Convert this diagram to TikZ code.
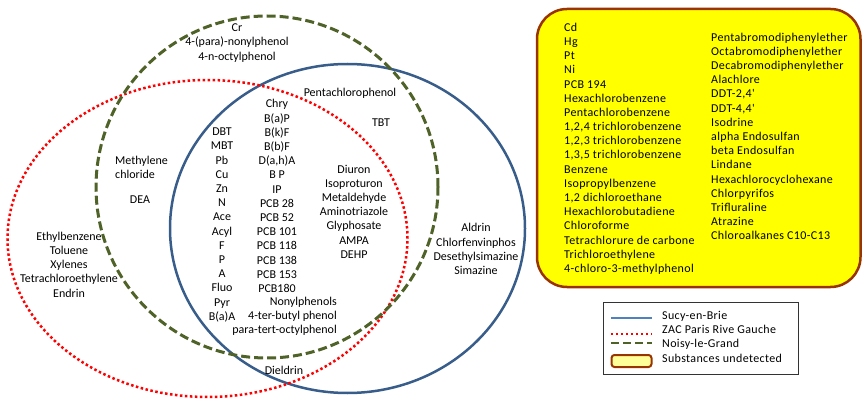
\documentclass[tikz,border=0pt]{standalone}
\usepackage{fontspec}
\setmainfont{Carlito}
\newfontfamily\boxfont{Carlito}[LetterSpace=3]
\definecolor{sucy}{HTML}{385D8A}
\definecolor{sucyleg}{HTML}{4F81BD}
\definecolor{noisy}{HTML}{4F6228}
\definecolor{boxborder}{HTML}{993300}
\definecolor{boxfill}{HTML}{FFFF00}
\definecolor{legfill}{HTML}{FFFF99}
\tikzset{
  txt/.style={inner sep=0pt, font=\fontsize{12}{14.2}\selectfont, align=center, text=black},
  txtl/.style={txt, align=left, anchor=west},
  txtb/.style={txtl, font=\boxfont\fontsize{12}{14.2}\selectfont},
  sucyline/.style={draw=sucy, line width=2.5pt},
  zacline/.style={draw=red, line width=2.5pt, dash pattern=on 2.5pt off 2.5pt},
  noisyline/.style={draw=noisy, line width=3pt, dash pattern=on 9pt off 4pt},
}
\begin{document}
\begin{tikzpicture}[x=1pt,y=-1pt]
\useasboundingbox (0,0) rectangle (863,401);
% sets
\draw[sucyline] (347.5,228.5) ellipse [x radius=177.5pt, y radius=164.5pt];
\draw[zacline] (207.5,238.5) ellipse [x radius=200pt, y radius=158.5pt];
\draw[noisyline] (267,187) circle [radius=171pt];
% Venn texts
\node[txt] (cr) at (237,43) {Cr\\4-(para)-nonylphenol\\4-n-octylphenol};
\node[txt] (pcp) at (350,93) {Pentachlorophenol};
\node[txt] (tbt) at (381,123) {TBT};
\node[txt] (hap) at (277,196) {Chry\\B(a)P\\B(k)F\\B(b)F\\D(a,h)A\\B P\\IP\\PCB 28\\PCB 52\\PCB 101\\PCB 118\\PCB 138\\PCB 153\\PCB180};
\node[txt, align=right, anchor=east] (phen) at (337,316.5) {Nonylphenols\\4-ter-butyl phenol\\para-tert-octylphenol};
\node[txt] (met) at (222,225) {DBT\\MBT\\Pb\\Cu\\Zn\\N\\Ace\\Acyl\\F\\P\\A\\Fluo\\Pyr\\B(a)A};
\node[txt] (pest) at (354,211.5) {Diuron\\Isoproturon\\Metaldehyde\\Aminotriazole\\Glyphosate\\AMPA\\DEHP};
\node[txtl] (mc) at (115,167) {Methylene\\chloride};
\node[txt] (dea) at (140,200) {DEA};
\node[txt] (eth) at (69,264.5) {Ethylbenzene\\Toluene\\Xylenes\\Tetrachloroethylene\\Endrin};
\node[txt] (ald) at (476,249) {Aldrin\\Chlorfenvinphos\\Desethylsimazine\\Simazine};
\node[txt] (die) at (284,370) {Dieldrin};
% undetected box
\draw[draw=boxborder, fill=boxfill, line width=2.5pt, rounded corners=30pt] (537,9) rectangle (860.5,287);
\node[txtb] (undl) at (564,148.7) {Cd\\Hg\\Pt\\Ni\\PCB 194\\Hexachlorobenzene\\Pentachlorobenzene\\1,2,4 trichlorobenzene\\1,2,3 trichlorobenzene\\1,3,5 trichlorobenzene\\Benzene\\Isopropylbenzene\\1,2 dichloroethane\\Hexachlorobutadiene\\Chloroforme\\Tetrachlorure de carbone\\Trichloroethylene\\4-chloro-3-methylphenol};
\node[txtb] (undr) at (711,136.4) {Pentabromodiphenylether\\Octabromodiphenylether\\Decabromodiphenylether\\Alachlore\\DDT-2,4'\\DDT-4,4'\\Isodrine\\alpha Endosulfan\\beta Endosulfan\\Lindane\\Hexachlorocyclohexane\\Chlorpyrifos\\Trifluraline\\Atrazine\\Chloroalkanes C10-C13};
% legend
\node[draw=black!80, line width=0.8pt, minimum width=195pt, minimum height=72pt, inner sep=0pt] (leg) at (700.5,338) {};
\coordinate (l1a) at (611,318); \coordinate (l1b) at (652,318);
\coordinate (l2a) at (611,334); \coordinate (l2b) at (652,334);
\coordinate (l3a) at (611,343); \coordinate (l3b) at (652,343);
\draw[draw=sucyleg, line width=2pt] (l1a) -- (l1b);
\draw[draw=red, line width=2pt, dash pattern=on 2pt off 3pt] (l2a) -- (l2b);
\draw[draw=noisy, line width=2.5pt, dash pattern=on 8pt off 4pt] (l3a) -- (l3b);
\node[draw=boxborder, fill=legfill, line width=2pt, rounded corners=3pt, minimum width=40pt, minimum height=12pt, inner sep=0pt] (l4) at (631.5,361) {};
\node[txtb] (t1) at (662,316) {Sucy-en-Brie};
\node[txtb] (t2) at (662,329.5) {ZAC Paris Rive Gauche};
\node[txtb] (t3) at (662,344) {Noisy-le-Grand};
\node[txtb] (t4) at (662,358) {Substances undetected};
\end{tikzpicture}
\end{document}
